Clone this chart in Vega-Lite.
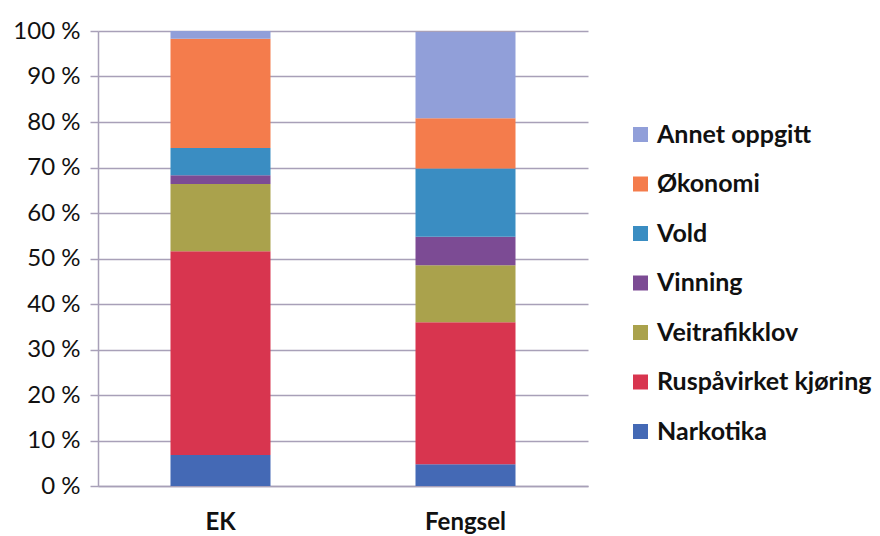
{
  "$schema": "https://vega.github.io/schema/vega-lite/v6.json",
  "autosize": "none",
  "width": 490,
  "height": 455,
  "padding": {"left": 98, "top": 31, "right": 292, "bottom": 50},
  "background": "white",
  "config": {"view": {"stroke": null}, "font": "Lato"},
  "data": {"values": [
    {"gruppe": "EK", "kategori": "Narkotika", "rang": 1, "andel": 6.8},
    {"gruppe": "EK", "kategori": "Ruspåvirket kjøring", "rang": 2, "andel": 44.8},
    {"gruppe": "EK", "kategori": "Veitrafikklov", "rang": 3, "andel": 14.8},
    {"gruppe": "EK", "kategori": "Vinning", "rang": 4, "andel": 1.9},
    {"gruppe": "EK", "kategori": "Vold", "rang": 5, "andel": 6.0},
    {"gruppe": "EK", "kategori": "Økonomi", "rang": 6, "andel": 24.0},
    {"gruppe": "EK", "kategori": "Annet oppgitt", "rang": 7, "andel": 1.7},
    {"gruppe": "Fengsel", "kategori": "Narkotika", "rang": 1, "andel": 4.8},
    {"gruppe": "Fengsel", "kategori": "Ruspåvirket kjøring", "rang": 2, "andel": 31.2},
    {"gruppe": "Fengsel", "kategori": "Veitrafikklov", "rang": 3, "andel": 12.5},
    {"gruppe": "Fengsel", "kategori": "Vinning", "rang": 4, "andel": 6.3},
    {"gruppe": "Fengsel", "kategori": "Vold", "rang": 5, "andel": 15.0},
    {"gruppe": "Fengsel", "kategori": "Økonomi", "rang": 6, "andel": 11.0},
    {"gruppe": "Fengsel", "kategori": "Annet oppgitt", "rang": 7, "andel": 19.0}
  ]},
  "mark": {"type": "bar", "size": 100},
  "encoding": {
    "x": {
      "field": "gruppe", "type": "nominal", "sort": ["EK", "Fengsel"],
      "scale": {"paddingInner": 0, "paddingOuter": 0},
      "axis": {
        "title": null, "labelAngle": 0, "labelFontSize": 24, "labelFontWeight": "bold",
        "labelColor": "#111111", "labelPadding": 24, "ticks": false,
        "domain": true, "domainColor": "#a8a0b8", "domainWidth": 1.5
      }
    },
    "y": {
      "field": "andel", "type": "quantitative", "stack": "zero",
      "scale": {"domain": [0, 100], "nice": false},
      "axis": {
        "title": null, "values": [0, 10, 20, 30, 40, 50, 60, 70, 80, 90, 100],
        "labelExpr": "datum.value + ' %'", "labelFontSize": 24, "labelColor": "#111111",
        "labelPadding": 10, "tickSize": 8, "tickColor": "#a8a0b8", "tickWidth": 1.5,
        "domainColor": "#a8a0b8", "domainWidth": 1.5,
        "gridColor": "#a8a0b8", "gridWidth": 1.5
      }
    },
    "color": {
      "field": "kategori", "type": "nominal",
      "scale": {
        "domain": ["Annet oppgitt", "Økonomi", "Vold", "Vinning", "Veitrafikklov", "Ruspåvirket kjøring", "Narkotika"],
        "range": ["#919fd9", "#f47c4c", "#3a8dc2", "#7c4b94", "#aaa24c", "#d8354f", "#4469b5"]
      },
      "legend": {
        "title": null, "orient": "none", "legendX": 530, "legendY": 91,
        "symbolType": "square", "symbolSize": 225, "symbolStrokeWidth": 0,
        "labelFontSize": 25, "labelFontWeight": "bold", "labelColor": "#111111",
        "rowPadding": 23.5, "labelOffset": 4, "labelLimit": 300
      }
    },
    "order": {"field": "rang", "type": "quantitative", "sort": "ascending"}
  }
}
